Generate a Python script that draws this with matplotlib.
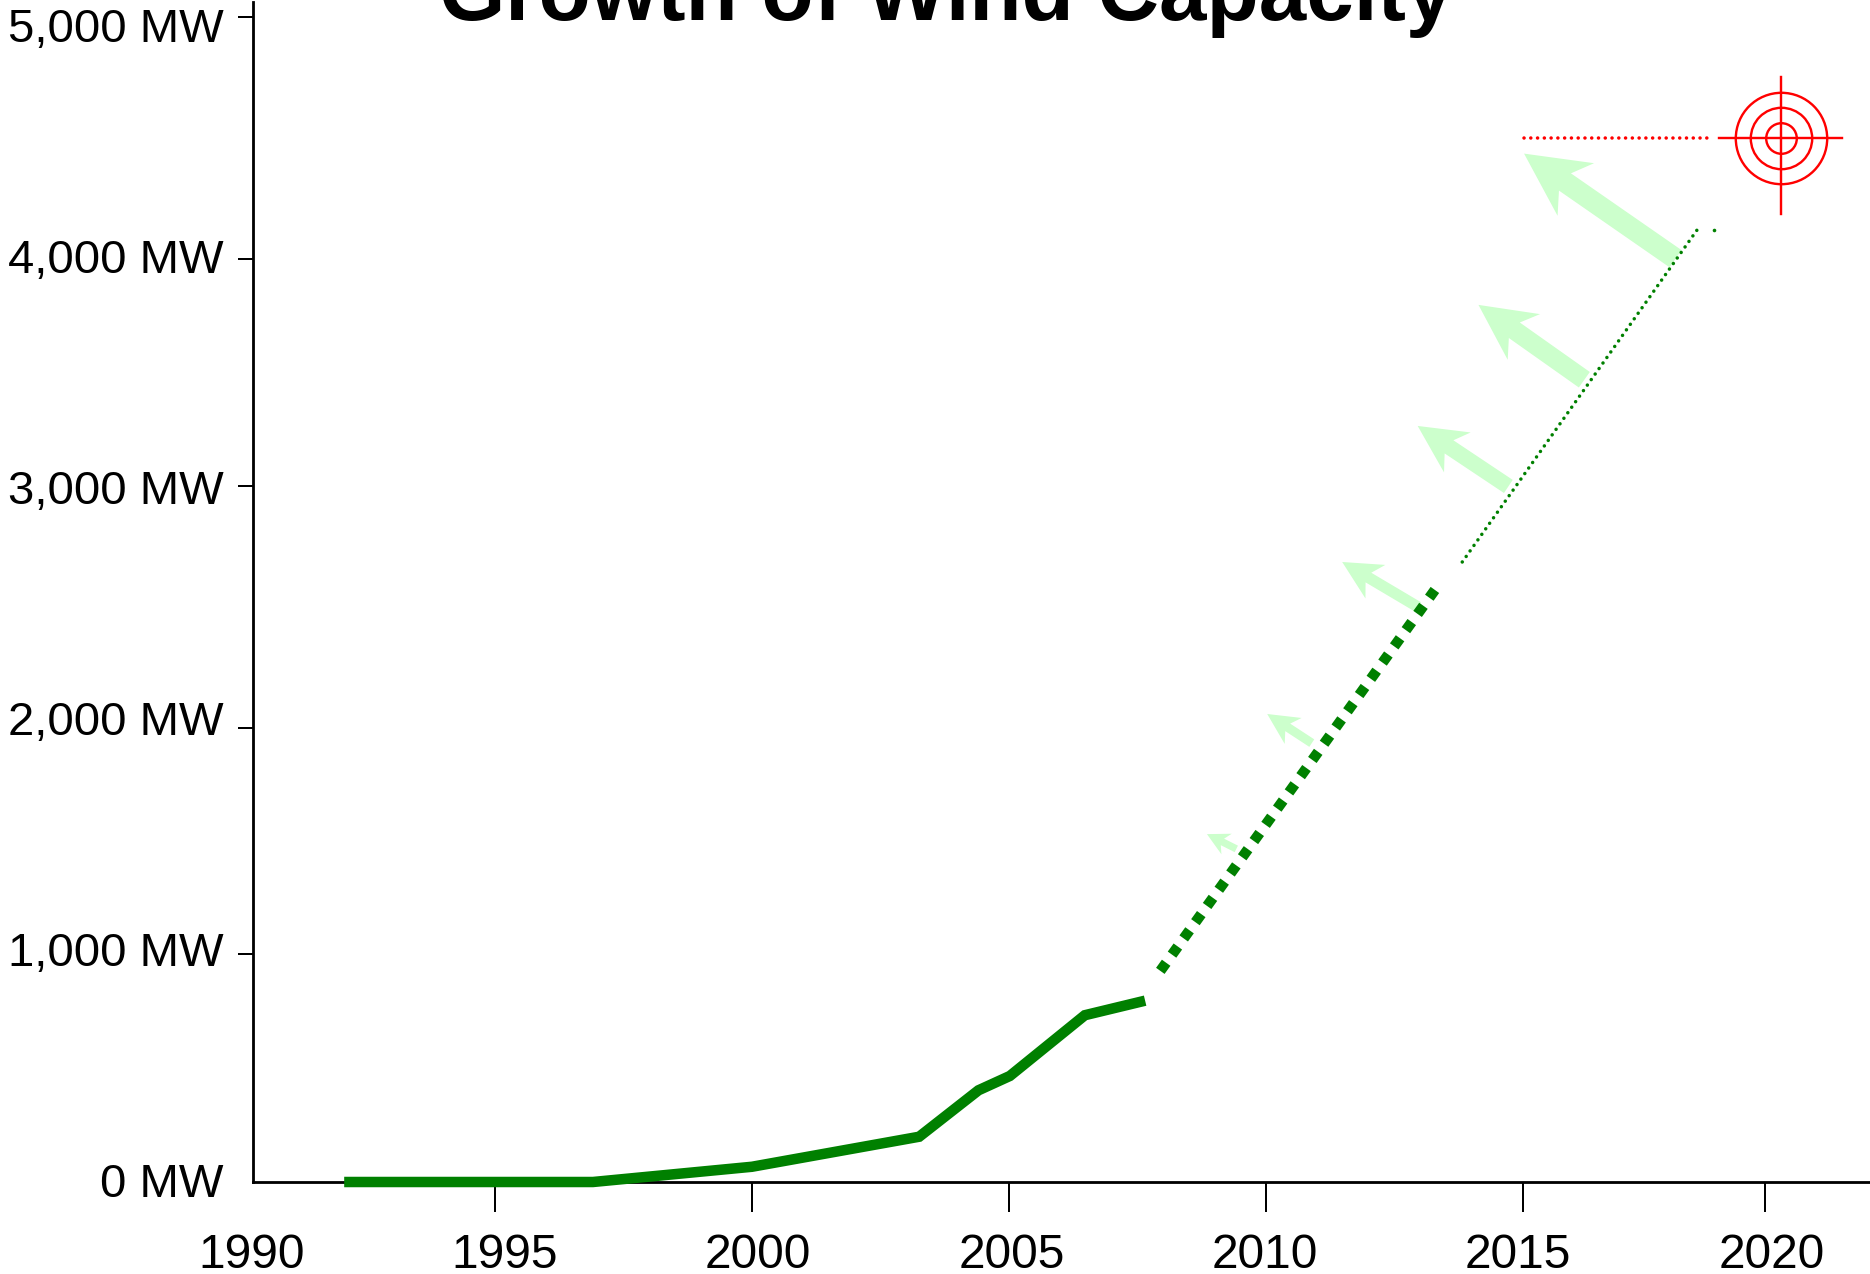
import numpy as np
import matplotlib
matplotlib.use("Agg")
import matplotlib.pyplot as plt
from matplotlib.patches import Polygon
from matplotlib.transforms import IdentityTransform

plt.rcParams['font.family'] = ['Liberation Sans', 'DejaVu Sans']
plt.rcParams['lines.scale_dashes'] = False

# what has been built so far
actualYears = [1991.80, 1996.71, 1999.85, 2003.15, 2004.32, 2004.94, 2006.42, 2007.61]
actualMW = [0, 0, 66, 196, 397, 459, 722, 785]

# planned and possible growth
plannedYears = [2007.91, 2013.33]
plannedMW = [914, 2563]
possibleYears = [2013.87, 2018.52]
possibleMW = [2684, 4126]
strayYear = [2018.84]
strayMW = [4121]

# goal
goalYears = [2015.09, 2018.70]
goalMW = [4519, 4519]
targetYear = 2020.16
targetMW = 4519
crossYears = [2018.94, 2021.37]
crossMW = [4190, 4784]

# light green arrows, tail to tip
arrowTailYears = [2009.41, 2010.90, 2013.00, 2014.78, 2016.28, 2018.08]
arrowTailMW = [1442, 1900, 2489, 3011, 3473, 3997]
arrowTipYears = [2008.83, 2010.02, 2011.50, 2012.99, 2014.19, 2015.09]
arrowTipMW = [1506, 2026, 2684, 3273, 3797, 4452]

# the tick marks of the picture do not sit quite on the labels
xTickPos = [1994.78, 1999.85, 2004.92, 2009.996, 2015.07, 2019.85]
xLabels = [1990, 1995, 2000, 2005, 2010, 2015, 2020]
yTickPos = [987, 1965, 3013, 3996, 5045]
yLabels = [0, 1000, 2000, 3000, 4000, 5000]

GREEN = "#008000"
LIGHT = "#CCFFCC"
RED = "#FF0000"
W, H = 1870, 1274
LEFT, BASE, TOP = 253, 1182, 2
arrowWidths = [7.3, 9, 11.2, 15.8, 19, 21]
headWidths = [23, 31, 39, 48, 56, 64]
headLengths = [22, 31, 38.6, 47.7, 55.6, 63]


def px(v):
    return v * 72 / 100


fig = plt.figure(figsize=(W / 100, H / 100), dpi=100)
ax = fig.add_axes([LEFT / W, (H - BASE) / H, (W - LEFT) / W, (BASE - TOP) / H])
ax.set_xlim(1990, 1990 + (W - LEFT) / 50.66)
ax.set_ylim(0, (BASE - TOP) / 0.231)

ax.spines['top'].set_visible(False)
ax.spines['right'].set_visible(False)
ax.spines['left'].set_linewidth(px(2.8))
ax.spines['bottom'].set_linewidth(px(2.8))
ax.set_xticks(xTickPos, labels=[])
ax.set_yticks(yTickPos, labels=[])
ax.tick_params(axis='x', length=px(30), width=px(2), color='black')
ax.tick_params(axis='y', length=px(15), width=px(2), color='black')

for year in xLabels:
    ax.annotate(str(year), xy=(year, 0), xycoords=ax.get_xaxis_transform(),
                xytext=(-px(1.5), -px(86)), textcoords='offset points',
                ha='center', va='baseline', fontsize=34.5, annotation_clip=False)
for mw in yLabels:
    ax.annotate(f"{mw:,} MW", xy=(0, mw), xycoords=ax.get_yaxis_transform(),
                xytext=(-px(29), -px(15)), textcoords='offset points',
                ha='right', va='baseline', fontsize=34, annotation_clip=False)

# arrows are built in pixels so that the heads keep their shape
for i in range(len(arrowWidths)):
    tail = ax.transData.transform((arrowTailYears[i], arrowTailMW[i]))
    tip = ax.transData.transform((arrowTipYears[i], arrowTipMW[i]))
    w = arrowWidths[i]
    hw = headWidths[i]
    hl = headLengths[i]
    along = (tail - tip) / np.hypot(*(tail - tip))
    side = np.array([-along[1], along[0]])
    shape = [tip,
             tip + along * hl + side * hw / 2,
             tip + along * hl * 0.79 + side * w / 2,
             tail + side * w / 2,
             tail - side * w / 2,
             tip + along * hl * 0.79 - side * w / 2,
             tip + along * hl - side * hw / 2]
    ax.add_patch(Polygon(shape, closed=True, facecolor=LIGHT, edgecolor='none',
                         transform=IdentityTransform(), zorder=2))

ax.plot(actualYears, actualMW, color=GREEN, lw=px(10.5), solid_capstyle='butt',
        solid_joinstyle='miter', clip_on=False, zorder=4)
ax.plot(plannedYears, plannedMW, color=GREEN, lw=px(10.5), ls=(0, (px(10), px(10))),
        dash_capstyle='butt', zorder=4)
ax.plot(possibleYears, possibleMW, color=GREEN, lw=px(3.5), ls=(0, (0.05, px(6.7))),
        dash_capstyle='round', zorder=4)
ax.plot(strayYear, strayMW, color=GREEN, marker='o', ms=px(3.6), mew=0, ls='none', zorder=4)

ax.plot(goalYears, goalMW, color=RED, lw=px(3.5), ls=(0, (0.05, px(6.7))),
        dash_capstyle='round', zorder=4)
ax.plot(crossYears, [targetMW, targetMW], color=RED, lw=px(2.4), zorder=5)
ax.plot([targetYear, targetYear], crossMW, color=RED, lw=px(2.4), zorder=5)
for radius in [15.3, 30.7, 45.7]:
    ax.plot([targetYear], [targetMW], marker='o', ms=px(2 * radius), mfc='none',
            mec=RED, mew=px(2.4), ls='none', zorder=5)

fig.text(946.5 / W, 1 - 20.5 / H, "Growth of Wind Capacity", ha='center', va='baseline',
         fontsize=61.5, fontweight='bold')

fig.savefig("out.png", dpi=100)
